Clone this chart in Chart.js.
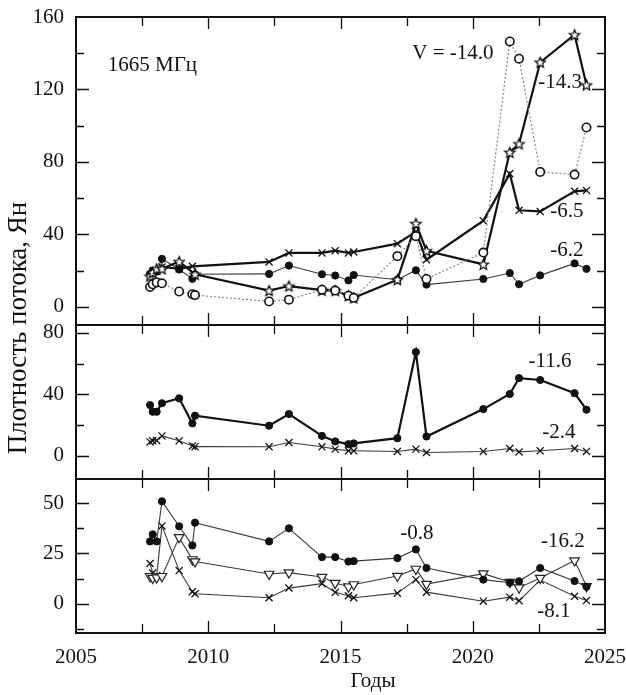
<!DOCTYPE html>
<html>
<head>
<meta charset="utf-8">
<script src="https://cdn.jsdelivr.net/npm/chart.js@4.4.1/dist/chart.umd.min.js"></script>
<style>
  html, body { margin: 0; padding: 0; background: #fff; }
  #wrap { width: 626px; height: 695px; position: relative; }
</style>
</head>
<body>
<div id="wrap"><canvas id="chart"></canvas></div>
<script>
// Observation epochs (years), shared by every series
var YEARS = [2007.8, 2007.9, 2008.05, 2008.25, 2008.9, 2009.4, 2009.5, 2012.3, 2013.05, 2014.3, 2014.8,
  2015.3, 2015.5, 2017.15, 2017.85, 2018.25, 2020.4, 2021.4, 2021.75, 2022.55, 2023.85, 2024.3];

// top panel (1665 MHz), flux density, Jy
var TOP_V140 = [11, 12.5, 13.5, 13, 8.5, 7, 6.5, 3, 4, 9.5, 9, 6.2, 5, 28, 39, 15.4, 30, 146.5, 137, 74.5, 73, 99];
var TOP_V143 = [17, 19, 21, 21, 25, null, 18, 9, 11.5, 9.2, 9, 6.2, 5, 15, 46, 31, 23.5, 85.3, 90, 135, 150.2, 122.5];
var TOP_V65 = [17, 19.5, 20, 22, 21, 22.4, null, 24.8, 29.8, 29.8, 31, 29.8, 30.3, 34.9, 41.5, 26, 47.6, 73.5, 53.3, 52.7, 63.8, 64.3];
var TOP_V62 = [18, 20, 19.5, 26.5, 20.6, 15.5, 18, 18.2, 22.8, 18, 17.3, 14.6, 17.6, 15, 20.2, 12.3, 15.4, 18.7, 12.5, 17.4, 24, 21];

// middle panel
var MID_V116 = [33, 28.7, 28.7, 34.2, 37.4, 21.1, 26.1, 19.6, 27.2, 13, 9.4, 7.6, 8.1, 11.5, 67.4, 12.6, 30.4, 40.2, 50.5, 49.3, 40.7, 30];
var MID_V24 = [9.1, 9.8, 10, 13, 9.8, 6.5, 6, 5.9, 8.7, 5.9, 4.4, 3.3, 3.3, 2.9, 4.4, 2.2, 2.9, 4.8, 2.6, 3.3, 4.8, 2.9];

// bottom panel
var BOT_V08 = [31, 34.5, 31, 50.9, 38.5, 29, 40.3, 31, 37.5, 23.2, 23.2, 21, 21.2, 22.7, 27, 17.8, 12, 10.5, 11.2, 17.8, 11.3, 8.5];
var BOT_V162 = [13.7, 12.8, 13, 13.7, 33, 22, 21, 14.8, 15.5, 13.3, 10.3, 8.5, 9.6, 13.8, 17.3, 9.8, 15, 10.8, 8, 12.8, 21.5, 8.7];
var BOT_V81 = [20, 15.3, 14, 38.7, 16.5, 6, 5, 3, 7.8, 10, 5.7, 4, 3, 5.3, 12, 5.8, 1.3, 3.3, 1.5, 11.8, 3.7, 1.6];

// axis ticks
var X_LABELS = [2005, 2010, 2015, 2020, 2025];
var X_MINOR = [2007.5, 2012.5, 2017.5, 2022.5];
var Y_TOP_LABELS = [0, 40, 80, 120, 160];
var Y_TOP_MINOR = [20, 60, 100, 140];
var Y_MID_LABELS = [0, 40, 80];
var Y_MID_MINOR = [20, 60];
var Y_BOT_LABELS = [0, 25, 50];
var Y_BOT_MINOR = [-12.5, 12.5, 37.5];

var SERIF = "'Liberation Serif', 'DejaVu Serif', serif";
var INK = '#111';
var THIN = '#3a3a3a';

function points(vals) {
  var out = [];
  YEARS.forEach(function (t, i) {
    if (vals[i] != null) out.push({ x: t, y: vals[i] });
  });
  return out;
}

function starImage(r) {
  var s = Math.ceil(r * 2 + 4);
  var c = document.createElement('canvas');
  c.width = s; c.height = s;
  var g = c.getContext('2d');
  g.translate(s / 2, s / 2 + 0.5);
  g.beginPath();
  for (var i = 0; i < 10; i++) {
    var rad = i % 2 ? r * 0.45 : r;
    var a = -Math.PI / 2 + i * Math.PI / 5;
    g.lineTo(Math.cos(a) * rad, Math.sin(a) * rad);
  }
  g.closePath();
  g.fillStyle = '#fff';
  g.fill();
  g.lineWidth = 1.2;
  g.strokeStyle = '#000';
  g.stroke();
  return c;
}
var STAR = starImage(5.5);

var filledDot = { pointStyle: 'circle', pointRadius: 3.6, pointBackgroundColor: INK, pointBorderColor: INK, pointBorderWidth: 1 };
var openDot = { pointStyle: 'circle', pointRadius: 4.2, pointBackgroundColor: '#fff', pointBorderColor: INK, pointBorderWidth: 1.6 };
var cross = { pointStyle: 'crossRot', pointRadius: 5, pointBorderColor: INK, pointBorderWidth: 1.3 };
var tri = { pointStyle: 'triangle', pointRotation: 180, pointRadius: 5.5, pointBackgroundColor: '#fff', pointBorderColor: '#222', pointBorderWidth: 1.2 };

function ds(vals, axis, marker, line) {
  return Object.assign({ data: points(vals), yAxisID: axis, fill: false, tension: 0 }, marker, line);
}
var thick = { borderColor: INK, borderWidth: 2.2 };
var thin = { borderColor: THIN, borderWidth: 1.1 };
var dotted = { borderColor: '#888', borderWidth: 1.2, borderDash: [2, 2] };

var datasets = [
  ds(TOP_V140, 'yTop', openDot, dotted),
  ds(TOP_V143, 'yTop', { pointStyle: STAR }, thick),
  ds(TOP_V65, 'yTop', cross, thick),
  ds(TOP_V62, 'yTop', filledDot, thin),
  ds(MID_V116, 'yMid', filledDot, thick),
  ds(MID_V24, 'yMid', cross, thin),
  ds(BOT_V08, 'yBot', filledDot, thin),
  ds(BOT_V162, 'yBot', tri, thin),
  ds(BOT_V81, 'yBot', cross, thin)
];

// velocity labels placed in data coordinates of their panel
var NOTES = [
  { text: '1665 МГц', x: 2006.2, y: 133, axis: 'yTop', align: 'left' },
  { text: 'V = -14.0', x: 2019.25, y: 140, axis: 'yTop', align: 'center' },
  { text: '-14.3', x: 2023.3, y: 123.7, axis: 'yTop', align: 'center' },
  { text: '-6.5', x: 2023.56, y: 52.6, axis: 'yTop', align: 'center' },
  { text: '-6.2', x: 2023.56, y: 31.1, axis: 'yTop', align: 'center' },
  { text: '-11.6', x: 2022.92, y: 61.1, axis: 'yMid', align: 'center' },
  { text: '-2.4', x: 2023.26, y: 15.4, axis: 'yMid', align: 'center' },
  { text: '-0.8', x: 2017.89, y: 35, axis: 'yBot', align: 'center' },
  { text: '-16.2', x: 2023.41, y: 31, axis: 'yBot', align: 'center' },
  { text: '-8.1', x: 2023.07, y: -4, axis: 'yBot', align: 'center' }
];

var PANELS = [
  { id: 'yTop', minor: Y_TOP_MINOR, labels: Y_TOP_LABELS },
  { id: 'yMid', minor: Y_MID_MINOR, labels: Y_MID_LABELS },
  { id: 'yBot', minor: Y_BOT_MINOR, labels: Y_BOT_LABELS }
];

var framePlugin = {
  id: 'frame',
  afterDatasetsDraw: function (chart) {
    var ctx = chart.ctx;
    var area = chart.chartArea;
    var xs = chart.scales.x;
    ctx.save();
    ctx.strokeStyle = INK;
    PANELS.forEach(function (p) {
      var ys = chart.scales[p.id];
      var top = ys.top, bottom = ys.bottom;
      ctx.lineWidth = 1.3;
      ctx.beginPath();
      X_LABELS.concat(X_MINOR).forEach(function (v) {
        if (v <= xs.min || v >= xs.max) return;
        var len = X_LABELS.indexOf(v) >= 0 ? 12 : 9;
        var px = Math.round(xs.getPixelForValue(v)) + 0.5;
        ctx.moveTo(px, top); ctx.lineTo(px, top + len);
        ctx.moveTo(px, bottom); ctx.lineTo(px, bottom - len);
      });
      p.labels.concat(p.minor).forEach(function (v) {
        var py = ys.getPixelForValue(v);
        if (py <= top + 1 || py >= bottom - 1) return;
        var len = p.labels.indexOf(v) >= 0 ? 13 : 8;
        py = Math.round(py) + 0.5;
        ctx.moveTo(area.left, py); ctx.lineTo(area.left + len, py);
        ctx.moveTo(area.right, py); ctx.lineTo(area.right - len, py);
      });
      ctx.stroke();
      ctx.lineWidth = 2;
      ctx.strokeRect(area.left, top, area.right - area.left, bottom - top);
    });

    ctx.fillStyle = INK;
    ctx.textBaseline = 'middle';
    ctx.font = '21px ' + SERIF;
    NOTES.forEach(function (n) {
      ctx.textAlign = n.align;
      ctx.fillText(n.text, xs.getPixelForValue(n.x), chart.scales[n.axis].getPixelForValue(n.y));
    });

    ctx.textAlign = 'center';
    ctx.textBaseline = 'alphabetic';
    ctx.fillText('Годы', 373, 687);
    ctx.font = '27px ' + SERIF;
    ctx.translate(19, 328);
    ctx.rotate(-Math.PI / 2);
    ctx.textBaseline = 'middle';
    ctx.fillText('Плотность потока, Ян', 0, 0);
    ctx.restore();
  }
};

function yScale(min, max, weight, order, labels) {
  return {
    type: 'linear',
    position: 'left',
    stack: 'panels',
    stackWeight: weight,
    weight: order,
    min: min,
    max: max,
    grid: { display: false, drawTicks: false },
    border: { display: false },
    ticks: { color: INK, font: { family: SERIF, size: 21 }, padding: 12 },
    afterBuildTicks: function (scale) {
      scale.ticks = labels.map(function (v) { return { value: v }; });
    },
    afterFit: function (scale) {
      scale.width = 76;
      scale.paddingTop = 0;
      scale.paddingBottom = 0;
    }
  };
}

new Chart(document.getElementById('chart'), {
  type: 'line',
  data: { datasets: datasets },
  options: {
    responsive: true,
    maintainAspectRatio: false,
    animation: false,
    devicePixelRatio: 1,
    events: [],
    layout: { padding: { left: 0, right: 21, top: 17, bottom: 0 } },
    plugins: { legend: { display: false }, tooltip: { enabled: false } },
    scales: {
      x: {
        type: 'linear',
        position: 'bottom',
        min: 2005,
        max: 2025,
        grid: { display: false, drawTicks: false },
        border: { display: false },
        ticks: {
          color: INK,
          font: { family: SERIF, size: 21 },
          padding: 12,
          maxRotation: 0,
          callback: function (v) { return String(v); }
        },
        afterBuildTicks: function (scale) {
          scale.ticks = X_LABELS.map(function (v) { return { value: v }; });
        },
        afterFit: function (scale) {
          scale.height = 62;
          scale.paddingLeft = 0;
          scale.paddingRight = 0;
        }
      },
      yTop: yScale(-10, 160, 2, 3, Y_TOP_LABELS),
      yMid: yScale(-15, 85, 1, 2, Y_MID_LABELS),
      yBot: yScale(-14.5, 62, 1, 1, Y_BOT_LABELS)
    }
  },
  plugins: [framePlugin]
});
</script>
</body>
</html>
